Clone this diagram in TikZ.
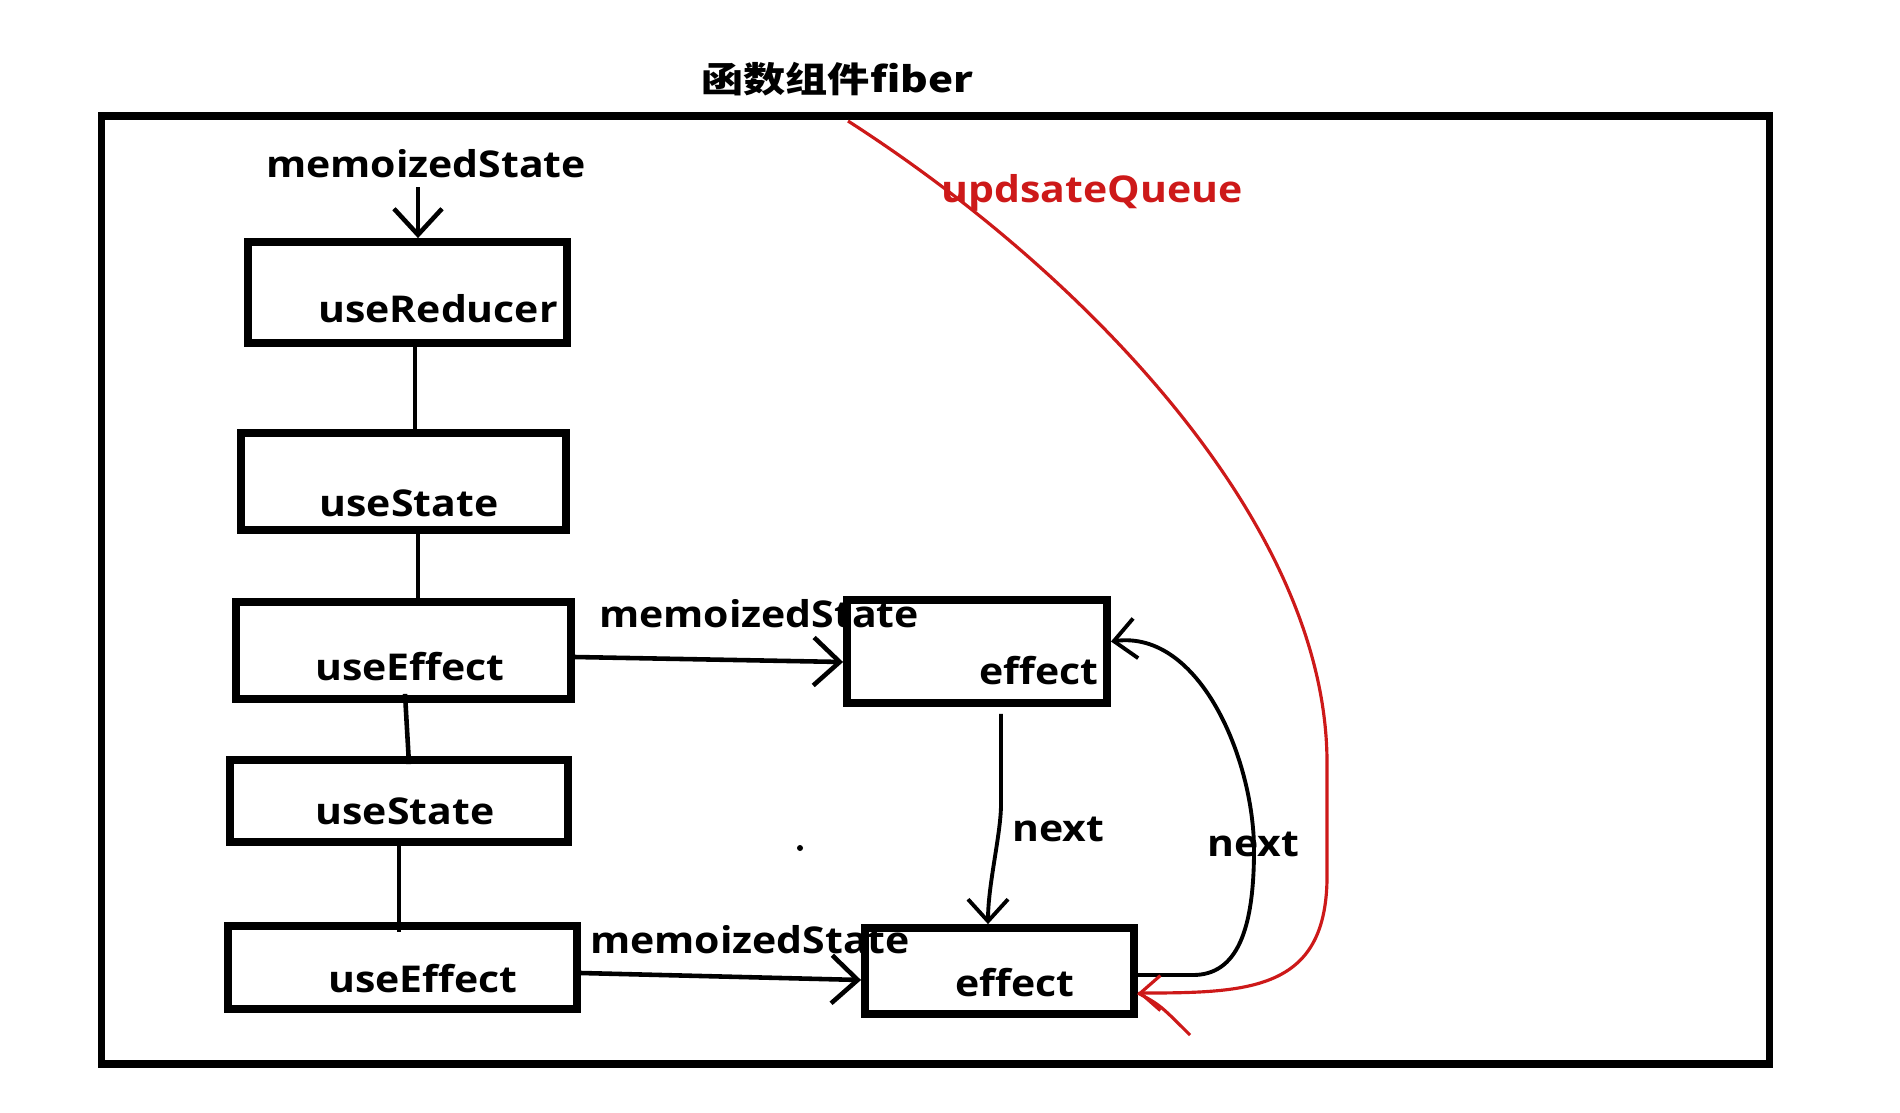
\documentclass[tikz,border=0pt]{standalone}
\usepackage{fontspec}
\setmainfont{Open Sans}[FakeStretch=1.11]
\newfontfamily\cjk{Noto Sans CJK SC}[FakeStretch=1.2]
\usetikzlibrary{arrows.meta}
\definecolor{pen}{RGB}{205,25,25}

\begin{document}
\begin{tikzpicture}[x=0.01cm,y=-0.01cm,
        box/.style={draw,line width=2.2pt,inner sep=0pt},
        lbl/.style={font=\bfseries\fontsize{10.5pt}{12pt}\selectfont,anchor=base,inner sep=0pt},
        link/.style={line width=1.3pt},
        arr/.style={line width=1.3pt,-{Straight Barb[length=0.26cm,width=0.48cm]}},
        nxt/.style={line width=1.1pt,-{Straight Barb[length=0.22cm,width=0.4cm]}},
        upd/.style={pen,line width=0.9pt}]
                \useasboundingbox (0,0) rectangle (1900,1112);
                \node[lbl,font=\cjk\bfseries\fontsize{10pt}{12pt}\selectfont] at (837,92) (t) {函数组件fiber};
                \node[box,minimum width=16.67cm,minimum height=9.48cm] at (935.5,590) (fb) {};
                \node[box,minimum width=3.19cm,minimum height=1.01cm] at (407.5,292.5) (ur) {};
                \node[box,minimum width=3.25cm,minimum height=0.97cm] at (403.5,481.5) (us1) {};
                \node[box,minimum width=3.35cm,minimum height=0.97cm] at (403.5,650.5) (ue1) {};
                \node[box,minimum width=3.38cm,minimum height=0.82cm] at (399,801) (us2) {};
                \node[box,minimum width=3.49cm,minimum height=0.83cm] at (402.5,967.5) (ue2) {};
                \node[box,minimum width=2.60cm,minimum height=1.03cm] at (977,651.5) (ef1) {};
                \node[box,minimum width=2.69cm,minimum height=0.86cm] at (999.5,971) (ef2) {};
                \node[lbl] at (426,177) (m0) {memoizedState};
                \node[lbl] at (438,322) (a) {useReducer};
                \node[lbl] at (409,516) (b) {useState};
                \node[lbl] at (410,680) (c) {useEffect};
                \node[lbl] at (405,824) (d) {useState};
                \node[lbl] at (423,992) (e) {useEffect};
                \node[lbl] at (759,627) (m1) {memoizedState};
                \node[lbl] at (750,953) (m2) {memoizedState};
                \node[lbl] at (1039,684) (f) {effect};
                \node[lbl] at (1015,996) (g) {effect};
                \node[lbl] at (1058,841) (n1) {next};
                \node[lbl] at (1253,856) (n2) {next};
                \node[lbl,text=pen] at (1092,202) (q) {updsateQueue};
                \coordinate (q0) at (848,121);
                \coordinate (q1) at (1190,1035);
                \draw[arr] ([xshift=-0.08cm,yshift=-0.09cm]m0.south) -- ([xshift=-0.08cm]m0.south |- ur.north);
                \draw[link] ([xshift=0.075cm]ur.south) -- ([xshift=0.075cm]ur.south |- us1.north);
                \draw[link] ([xshift=0.145cm]us1.south) -- ([xshift=0.145cm,yshift=-0.06cm]us1.south |- ue1.north);
                \draw[link] ([xshift=0.015cm,yshift=0.09cm]ue1.south) -- ([xshift=0.1cm,yshift=-0.08cm]us2.north);
                \draw[link] (us2.south) -- ([yshift=-0.1cm]us2.south |- ue2.north);
                \draw[arr] ([yshift=-0.065cm]ue1.east) -- ([yshift=-0.105cm]ef1.west);
                \draw[arr] ([yshift=-0.055cm]ue2.east) -- ([yshift=-0.09cm]ef2.west);
                \draw[nxt] ([xshift=0.24cm,yshift=-0.07cm]ef1.south) -- ++(0,90) .. controls +(0,30) and +(0,-40) .. ([xshift=-0.115cm]ef2.north);
                \draw[nxt] ([yshift=-0.04cm]ef2.east) -- (1193,975) .. controls (1237,975) and (1254,930) .. (1254,850) .. controls (1254,760) and (1200,630) .. ([yshift=0.1cm]ef1.east);
                \draw[upd,-{Straight Barb[length=0.2cm,width=0.35cm]}] (q0) .. controls (1080,270) and (1325,520) .. (1327,760) -- (1327,880) .. controls (1325,990) and (1250,993) .. ([yshift=-0.22cm]ef2.east);
                \draw[upd] ([yshift=-0.22cm]ef2.east) .. controls (1160,1005) .. (q1);
                \fill (800,848) circle[radius=0.03cm];
            \end{tikzpicture}
\end{document}
